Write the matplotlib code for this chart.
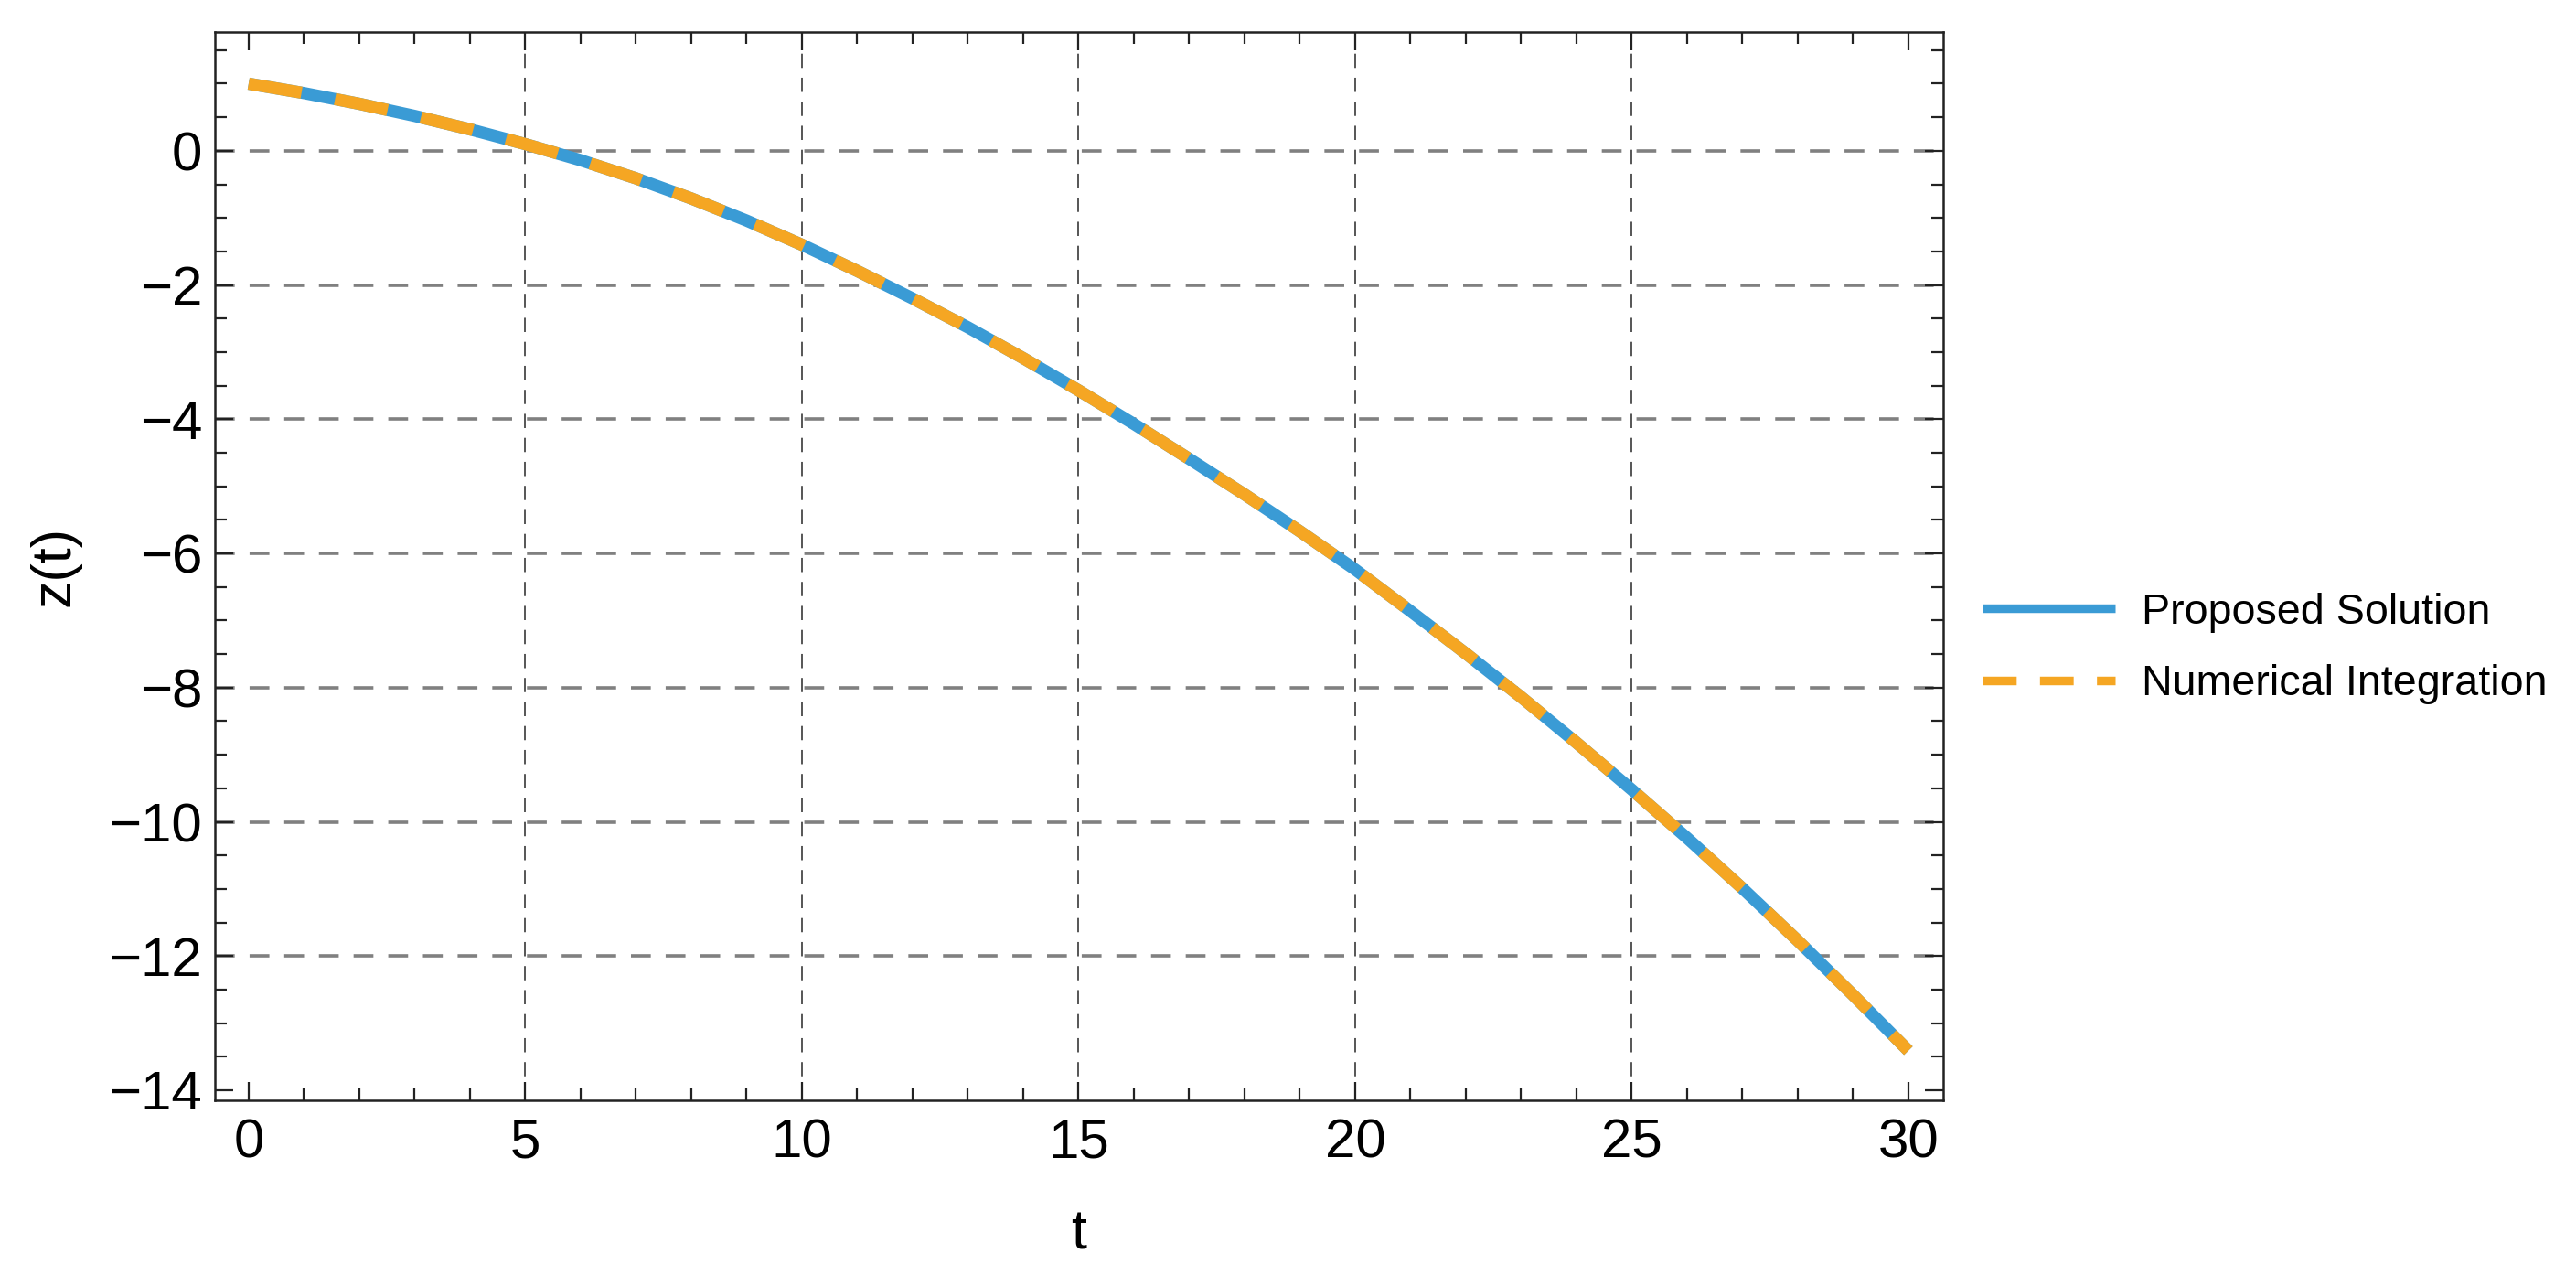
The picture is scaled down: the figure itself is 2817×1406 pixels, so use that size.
import matplotlib
matplotlib.use("Agg")
import matplotlib.pyplot as plt
from matplotlib.lines import Line2D
from matplotlib.ticker import MultipleLocator
import numpy as np

# values
t_vals = [0, 1, 2, 3, 4, 5, 6, 7, 8, 9, 10, 11, 12, 13, 14, 15,
          16, 17, 18, 19, 20, 21, 22, 23, 24, 25, 26, 27, 28, 29, 30]
z_proposed = [1.00, 0.86, 0.70, 0.52, 0.32, 0.10, -0.14, -0.41, -0.71, -1.04,
              -1.40, -1.79, -2.20, -2.63, -3.09, -3.57, -4.07, -4.59, -5.12,
              -5.67, -6.24, -6.86, -7.49, -8.14, -8.82, -9.52, -10.24, -10.99,
              -11.77, -12.58, -13.41]
z_numerical = list(z_proposed)
series_labels = ["Proposed Solution", "Numerical Integration"]
x_ticks = [0, 5, 10, 15, 20, 25, 30]
y_ticks = [0, -2, -4, -6, -8, -10, -12, -14]
x_grid = [5, 10, 15, 20, 25]
y_grid = [0, -2, -4, -6, -8, -10, -12]

BLUE = "#3A9BD5"
ORANGE = "#F5A623"

plt.rcParams["font.family"] = ["Liberation Sans", "DejaVu Sans"]

dpi = 200
fig = plt.figure(figsize=(2817 / dpi, 1406 / dpi), dpi=dpi)
ax = fig.add_axes([235 / 2817, 1 - 1203 / 1406, (2125 - 235) / 2817, (1203 - 35) / 1406])

t = np.array(t_vals)
ax.plot(t, z_proposed, color=BLUE, lw=4.8, solid_capstyle="butt", zorder=3)
ax.plot(t, z_numerical, color=ORANGE, lw=4.8, dashes=(4.4, 2.8),
        dash_capstyle="butt", zorder=4)

ax.set_xlim(-0.61, 30.63)
ax.set_ylim(-14.15, 1.77)

ax.set_xticks(x_ticks)
ax.set_yticks(y_ticks)
ax.xaxis.set_minor_locator(MultipleLocator(1))
ax.yaxis.set_minor_locator(MultipleLocator(0.5))
ax.tick_params(which="both", direction="in", top=True, right=True,
               color="#222222", width=0.8)
ax.tick_params(which="major", length=7.2, labelsize=21.6, pad=5)
ax.tick_params(which="minor", length=4.6)
ax.tick_params(axis="x", which="major", pad=7)

for spine in ax.spines.values():
    spine.set_linewidth(0.9)
    spine.set_color("#222222")

# Mathematica-style dashed grid, interior lines only
for gx in x_grid:
    ax.axvline(gx, color="#555555", lw=0.7, dashes=(8, 5.5), zorder=1)
for gy in y_grid:
    ax.axhline(gy, color="#808080", lw=1.3, dashes=(6, 4.5), zorder=1)

ax.set_xlabel("t", fontsize=22, labelpad=16)
ax.set_ylabel("z(t)", fontsize=22, labelpad=11)

handles = [
    Line2D([], [], color=BLUE, lw=3.4, solid_capstyle="butt"),
    Line2D([], [], color=ORANGE, lw=3.4, dashes=(3.9, 2.7), dash_capstyle="butt"),
]
fig.legend(handles, series_labels, loc="center left",
           bbox_to_anchor=(2168 / 2817, 1 - 709 / 1406), frameon=False,
           fontsize=16.8, handlelength=3.1, handletextpad=0.62,
           labelspacing=0.75, borderpad=0, borderaxespad=0)

fig.savefig("out.png", dpi=dpi, facecolor="white")
